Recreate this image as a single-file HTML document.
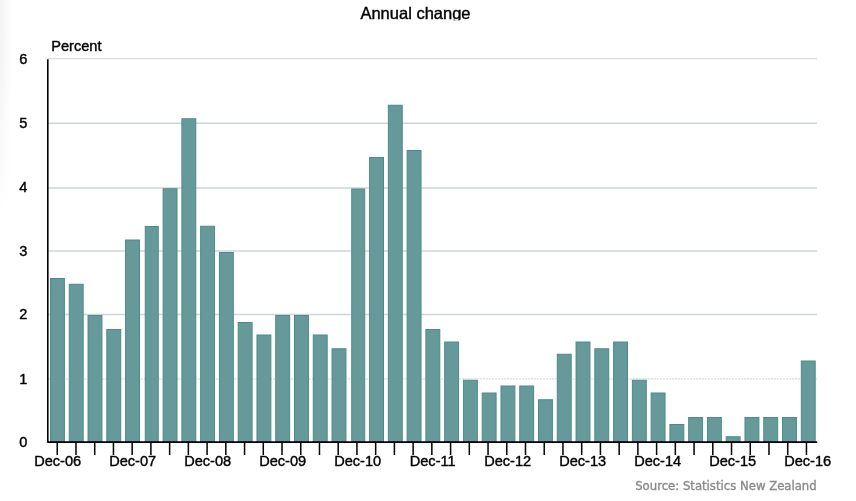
<!DOCTYPE html>
<html lang="en">
<head>
<meta charset="utf-8">
<title>Annual change</title>
<style>
html,body{margin:0;padding:0;background:#fff;}
body{width:856px;height:501px;overflow:hidden;position:relative;font-family:"Liberation Sans",Arial,sans-serif;}
svg{position:absolute;left:0;top:0;display:block;}
svg text{font-family:"Liberation Sans",Arial,sans-serif;fill:#000;stroke:#000;stroke-width:0.4px;}
.src{font-family:"DejaVu Sans Condensed","DejaVu Sans","Liberation Sans",sans-serif;}
</style>
</head>
<body>
<svg width="856" height="501" viewBox="0 0 856 501">
<defs>
<linearGradient id="lg" x1="0" y1="0" x2="1" y2="0">
<stop offset="0" stop-color="#000" stop-opacity="0.05"/>
<stop offset="1" stop-color="#000" stop-opacity="0"/>
</linearGradient>
<linearGradient id="vm" x1="0" y1="0" x2="0" y2="1">
<stop offset="0" stop-color="#fff" stop-opacity="1"/>
<stop offset="0.35" stop-color="#fff" stop-opacity="0.9"/>
<stop offset="1" stop-color="#fff" stop-opacity="0"/>
</linearGradient>
<mask id="m"><rect x="0" y="0" width="30" height="215" fill="url(#vm)"/></mask>
<clipPath id="tc"><rect x="300" y="0" width="260" height="20.3"/></clipPath>
</defs>
<rect x="0" y="0" width="856" height="501" fill="#fff"/>
<rect x="0" y="0" width="11" height="215" fill="url(#lg)" mask="url(#m)"/>
<g clip-path="url(#tc)"><text x="415.5" y="19.1" font-size="16.5" text-anchor="middle">Annual change</text></g>
<text x="51.2" y="50.6" font-size="14.6">Percent</text>
<line x1="48" y1="58.75" x2="817" y2="58.75" stroke-width="1.0" stroke="#ccd6d6"/>
<line x1="48" y1="123.2" x2="817" y2="123.2" stroke-width="1.5" stroke="#ccd6d6"/>
<line x1="48" y1="188.0" x2="817" y2="188.0" stroke-width="1.5" stroke="#ccd6d6"/>
<line x1="48" y1="251.1" x2="817" y2="251.1" stroke-width="1.5" stroke="#ccd6d6"/>
<line x1="48" y1="314.4" x2="817" y2="314.4" stroke-width="1.5" stroke="#ccd6d6"/>
<line x1="48" y1="378.9" x2="817" y2="378.9" stroke-width="1.0" stroke-dasharray="2.2 0.8" stroke="#ccd4d4"/>
<rect x="50.50" y="278.50" width="13.90" height="163.65" fill="#669a9a" stroke="#4e8a8a" stroke-width="1"/>
<rect x="69.27" y="284.25" width="13.90" height="157.90" fill="#669a9a" stroke="#4e8a8a" stroke-width="1"/>
<rect x="88.04" y="315.50" width="13.90" height="126.65" fill="#669a9a" stroke="#4e8a8a" stroke-width="1"/>
<rect x="106.81" y="329.50" width="13.90" height="112.65" fill="#669a9a" stroke="#4e8a8a" stroke-width="1"/>
<rect x="125.58" y="240.00" width="13.90" height="202.15" fill="#669a9a" stroke="#4e8a8a" stroke-width="1"/>
<rect x="145.25" y="226.50" width="13.00" height="215.65" fill="#669a9a" stroke="#4e8a8a" stroke-width="1"/>
<rect x="163.12" y="188.75" width="13.90" height="253.40" fill="#669a9a" stroke="#4e8a8a" stroke-width="1"/>
<rect x="181.89" y="118.75" width="13.90" height="323.40" fill="#669a9a" stroke="#4e8a8a" stroke-width="1"/>
<rect x="200.66" y="226.25" width="13.90" height="215.90" fill="#669a9a" stroke="#4e8a8a" stroke-width="1"/>
<rect x="219.43" y="252.50" width="13.90" height="189.65" fill="#669a9a" stroke="#4e8a8a" stroke-width="1"/>
<rect x="238.20" y="322.50" width="13.90" height="119.65" fill="#669a9a" stroke="#4e8a8a" stroke-width="1"/>
<rect x="256.97" y="335.00" width="13.90" height="107.15" fill="#669a9a" stroke="#4e8a8a" stroke-width="1"/>
<rect x="275.74" y="315.50" width="13.90" height="126.65" fill="#669a9a" stroke="#4e8a8a" stroke-width="1"/>
<rect x="294.51" y="315.50" width="13.90" height="126.65" fill="#669a9a" stroke="#4e8a8a" stroke-width="1"/>
<rect x="313.28" y="335.00" width="13.90" height="107.15" fill="#669a9a" stroke="#4e8a8a" stroke-width="1"/>
<rect x="332.05" y="348.75" width="13.90" height="93.40" fill="#669a9a" stroke="#4e8a8a" stroke-width="1"/>
<rect x="351.72" y="189.00" width="13.00" height="253.15" fill="#669a9a" stroke="#4e8a8a" stroke-width="1"/>
<rect x="369.59" y="157.50" width="13.90" height="284.65" fill="#669a9a" stroke="#4e8a8a" stroke-width="1"/>
<rect x="388.36" y="105.25" width="13.90" height="336.90" fill="#669a9a" stroke="#4e8a8a" stroke-width="1"/>
<rect x="407.13" y="150.50" width="13.90" height="291.65" fill="#669a9a" stroke="#4e8a8a" stroke-width="1"/>
<rect x="425.90" y="329.50" width="13.90" height="112.65" fill="#669a9a" stroke="#4e8a8a" stroke-width="1"/>
<rect x="444.67" y="342.00" width="13.90" height="100.15" fill="#669a9a" stroke="#4e8a8a" stroke-width="1"/>
<rect x="463.44" y="380.25" width="13.90" height="61.90" fill="#669a9a" stroke="#4e8a8a" stroke-width="1"/>
<rect x="482.21" y="393.00" width="13.90" height="49.15" fill="#669a9a" stroke="#4e8a8a" stroke-width="1"/>
<rect x="500.98" y="386.00" width="13.90" height="56.15" fill="#669a9a" stroke="#4e8a8a" stroke-width="1"/>
<rect x="519.75" y="386.00" width="13.90" height="56.15" fill="#669a9a" stroke="#4e8a8a" stroke-width="1"/>
<rect x="538.52" y="399.75" width="13.90" height="42.40" fill="#669a9a" stroke="#4e8a8a" stroke-width="1"/>
<rect x="557.29" y="354.25" width="13.90" height="87.90" fill="#669a9a" stroke="#4e8a8a" stroke-width="1"/>
<rect x="576.06" y="342.00" width="13.90" height="100.15" fill="#669a9a" stroke="#4e8a8a" stroke-width="1"/>
<rect x="594.83" y="348.75" width="13.90" height="93.40" fill="#669a9a" stroke="#4e8a8a" stroke-width="1"/>
<rect x="613.60" y="342.00" width="13.90" height="100.15" fill="#669a9a" stroke="#4e8a8a" stroke-width="1"/>
<rect x="632.37" y="380.25" width="13.90" height="61.90" fill="#669a9a" stroke="#4e8a8a" stroke-width="1"/>
<rect x="651.14" y="393.00" width="13.90" height="49.15" fill="#669a9a" stroke="#4e8a8a" stroke-width="1"/>
<rect x="669.91" y="424.50" width="13.90" height="17.65" fill="#669a9a" stroke="#4e8a8a" stroke-width="1"/>
<rect x="688.68" y="417.50" width="13.90" height="24.65" fill="#669a9a" stroke="#4e8a8a" stroke-width="1"/>
<rect x="707.45" y="417.50" width="13.90" height="24.65" fill="#669a9a" stroke="#4e8a8a" stroke-width="1"/>
<rect x="726.22" y="436.75" width="13.90" height="5.40" fill="#669a9a" stroke="#4e8a8a" stroke-width="1"/>
<rect x="744.99" y="417.50" width="13.90" height="24.65" fill="#669a9a" stroke="#4e8a8a" stroke-width="1"/>
<rect x="763.76" y="417.50" width="13.90" height="24.65" fill="#669a9a" stroke="#4e8a8a" stroke-width="1"/>
<rect x="782.53" y="417.50" width="13.90" height="24.65" fill="#669a9a" stroke="#4e8a8a" stroke-width="1"/>
<rect x="801.30" y="361.00" width="13.90" height="81.15" fill="#669a9a" stroke="#4e8a8a" stroke-width="1"/>
<path d="M47.8 59.2 V442.15 H817.2" fill="none" stroke="#000" stroke-width="1.6" stroke-linejoin="round"/>
<path d="M57.25 442.15V454.9M75.98 442.15V454.9M94.71 442.15V454.9M113.44 442.15V454.9M132.17 442.15V454.9M150.90 442.15V454.9M169.63 442.15V454.9M188.36 442.15V454.9M207.09 442.15V454.9M225.82 442.15V454.9M244.55 442.15V454.9M263.28 442.15V454.9M282.01 442.15V454.9M300.74 442.15V454.9M319.47 442.15V454.9M338.20 442.15V454.9M356.93 442.15V454.9M375.66 442.15V454.9M394.39 442.15V454.9M413.12 442.15V454.9M431.85 442.15V454.9M450.58 442.15V454.9M469.31 442.15V454.9M488.04 442.15V454.9M506.77 442.15V454.9M525.50 442.15V454.9M544.23 442.15V454.9M562.96 442.15V454.9M581.69 442.15V454.9M600.42 442.15V454.9M619.15 442.15V454.9M637.88 442.15V454.9M656.61 442.15V454.9M675.34 442.15V454.9M694.07 442.15V454.9M712.80 442.15V454.9M731.53 442.15V454.9M750.26 442.15V454.9M768.99 442.15V454.9M787.72 442.15V454.9M806.45 442.15V454.9" fill="none" stroke="#000" stroke-width="1.5"/>
<text x="27.3" y="63.5" font-size="14.5" text-anchor="end">6</text>
<text x="27.3" y="127.9" font-size="14.5" text-anchor="end">5</text>
<text x="27.3" y="192.3" font-size="14.5" text-anchor="end">4</text>
<text x="27.3" y="255.8" font-size="14.5" text-anchor="end">3</text>
<text x="27.3" y="319.1" font-size="14.5" text-anchor="end">2</text>
<text x="27.3" y="383.6" font-size="14.5" text-anchor="end">1</text>
<text x="27.3" y="446.7" font-size="14.5" text-anchor="end">0</text>
<text x="57.70" y="465.6" font-size="14.6" text-anchor="middle">Dec-06</text>
<text x="132.70" y="465.6" font-size="14.6" text-anchor="middle">Dec-07</text>
<text x="207.70" y="465.6" font-size="14.6" text-anchor="middle">Dec-08</text>
<text x="282.70" y="465.6" font-size="14.6" text-anchor="middle">Dec-09</text>
<text x="357.70" y="465.6" font-size="14.6" text-anchor="middle">Dec-10</text>
<text x="432.70" y="465.6" font-size="14.6" text-anchor="middle">Dec-11</text>
<text x="507.70" y="465.6" font-size="14.6" text-anchor="middle">Dec-12</text>
<text x="582.70" y="465.6" font-size="14.6" text-anchor="middle">Dec-13</text>
<text x="657.70" y="465.6" font-size="14.6" text-anchor="middle">Dec-14</text>
<text x="732.70" y="465.6" font-size="14.6" text-anchor="middle">Dec-15</text>
<text x="807.70" y="465.6" font-size="14.6" text-anchor="middle">Dec-16</text>
<text class="src" x="816.7" y="490" font-size="13.0" text-anchor="end" textLength="181.5" lengthAdjust="spacingAndGlyphs" style="fill:#8a8a8a;stroke:#8a8a8a;stroke-width:0.35px">Source: Statistics New Zealand</text>
</svg>
</body>
</html>
